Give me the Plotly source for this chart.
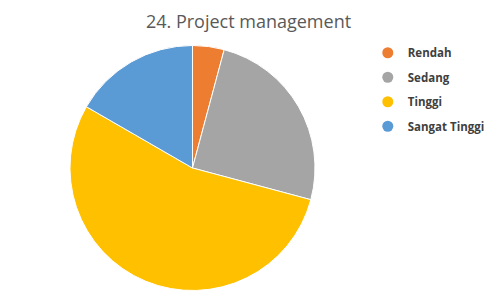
import plotly.graph_objects as go

labels = ["Rendah", "Sedang", "Tinggi", "Sangat Tinggi"]
values = [1, 6, 13, 4]
colors = ["#ED7D31", "#A5A5A5", "#FFC000", "#5B9BD5"]
title_text = "24. Project management"

fig = go.Figure()
fig.add_trace(go.Pie(
    labels=labels, values=values, sort=False, direction="clockwise", rotation=0,
    marker=dict(colors=colors, line=dict(color="white", width=1)),
    textinfo="none", hoverinfo="label+value+percent", showlegend=False,
    domain=dict(x=[0.1408, 0.6338], y=[0.049, 0.853]),
))
for i, (lab, col) in enumerate(zip(labels, colors)):
    fig.add_trace(go.Scatter(
        x=[None], y=[None], mode="markers", name=lab, legendgroup=f"g{i}",
        marker=dict(symbol="circle", size=11, color=col),
        showlegend=True, hoverinfo="skip",
    ))

fig.update_layout(
    width=497, height=306,
    margin=dict(l=0, r=0, t=0, b=0, autoexpand=False),
    paper_bgcolor="white", plot_bgcolor="white",
    xaxis=dict(visible=False), yaxis=dict(visible=False),
    title=dict(text=title_text, x=0.5, xanchor="center", xref="paper",
               y=0.928, yanchor="middle",
               font=dict(family="Open Sans", size=18, color="#595959")),
    legend=dict(x=0.740, y=0.875, xanchor="left", yanchor="top",
                font=dict(family="Open Sans", size=11.5, color="#404040", weight="bold"),
                tracegroupgap=5.5, itemwidth=30, bgcolor="rgba(0,0,0,0)"),
)
fig.write_html("out.html")
